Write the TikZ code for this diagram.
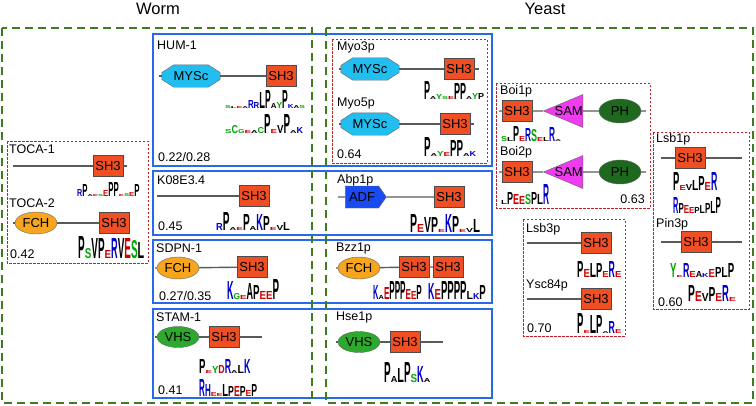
\documentclass[tikz,border=0pt]{standalone}
\usepackage{fontspec}
\setmainfont{Liberation Sans}
\usetikzlibrary{shapes.geometric,shapes.symbols,backgrounds}

\definecolor{wormgreen}{RGB}{60,125,30}
\definecolor{boxblue}{RGB}{40,105,235}
\definecolor{dashred}{RGB}{200,30,40}
\definecolor{shred}{RGB}{240,78,35}
\definecolor{myscblue}{RGB}{35,190,240}
\definecolor{adfblue}{RGB}{25,75,240}
\definecolor{fchorange}{RGB}{247,165,30}
\definecolor{vhsgreen}{RGB}{45,170,45}
\definecolor{phgreen}{RGB}{30,105,30}
\definecolor{sammag}{RGB}{240,60,240}
\definecolor{lineg}{RGB}{90,90,90}
% residue colours of the logos
\colorlet{lgP}{black}\colorlet{lgA}{black}\colorlet{lgL}{black}\colorlet{lgV}{black}
\colorlet{lgE}{red!80!black}\colorlet{lgD}{red!80!black}
\colorlet{lgR}{blue!80!black}\colorlet{lgK}{blue!80!black}\colorlet{lgH}{blue!80!black}
\colorlet{lgS}{green!65!black}\colorlet{lgG}{green!65!black}\colorlet{lgY}{green!65!black}\colorlet{lgC}{green!65!black}

\newlength{\lgw}
\newcommand{\lgres}[2]{\resizebox{\lgw}{#2pt}{\textcolor{lg#1}{#1}}}
\newcommand{\seqlogo}[2]{\setlength{\lgw}{#1pt}\foreach \ltr/\hgt in {#2}{\lgres{\ltr}{\hgt}}}
% octagon behind a MYSc node
\newcommand{\myscback}[1]{%
  \begin{pgfonlayer}{background}
    \filldraw[draw=black!60, fill=myscblue] ([yshift=3.5pt]#1.west) -- ([xshift=12pt]#1.north west)
      -- ([xshift=-12pt]#1.north east) -- ([yshift=3.5pt]#1.east) -- ([yshift=-3.5pt]#1.east)
      -- ([xshift=-12pt]#1.south east) -- ([xshift=12pt]#1.south west) -- ([yshift=-3.5pt]#1.west) -- cycle;
  \end{pgfonlayer}}

\tikzset{
    every node/.style={font=\fontsize{12.5}{14}\selectfont},
    dom/.style={font=\fontsize{13}{14}\selectfont, draw=black!60},
    bb/.style={draw=lineg, line width=1.4},
    sh3/.style={dom, rectangle, draw=black!70, fill=shred, minimum width=30, minimum height=21, inner sep=1},
    mysc/.style={dom, draw=none, rectangle, minimum width=58, minimum height=22, inner sep=0},
    adf/.style={dom, signal, signal to=east, signal pointer angle=110, fill=adfblue, minimum width=41, minimum height=22, inner sep=1},
    fch/.style={dom, ellipse, fill=fchorange, minimum width=42, minimum height=22, inner sep=0},
    vhs/.style={dom, ellipse, fill=vhsgreen, minimum width=42, minimum height=21, inner sep=0},
    ph/.style={dom, ellipse, fill=phgreen, minimum width=42, minimum height=24, inner sep=0},
    sam/.style={dom, isosceles triangle, shape border rotate=180, isosceles triangle stretches, fill=sammag, minimum width=33, minimum height=39, inner sep=0},
    prot/.style={anchor=west, inner sep=0},
    logo/.style={anchor=south west, inner sep=0, font=\bfseries},
    orgbox/.style={draw=wormgreen, line width=2, dash pattern=on 8pt off 5pt},
    famblue/.style={draw=boxblue, line width=1.8},
    famred/.style={draw=dashred, line width=0.9, dash pattern=on 2.5pt off 1.5pt}
}

\begin{document}
\begin{tikzpicture}[x=1pt, y=-1pt]
\useasboundingbox (0,0) rectangle (756,405);

% organisms
\node (worm) at (158,9) {\fontsize{16.5}{18}\selectfont Worm};
\node (yeast) at (545,9) {\fontsize{16.5}{18}\selectfont Yeast};
\draw[famblue] (153,34) rectangle (492,166);
\draw[famblue] (153,171) rectangle (492,235);
\draw[famblue] (153,240) rectangle (492,303);
\draw[famblue] (153,309) rectangle (492,398);
\draw[orgbox] (2,28) rectangle (312,403);
\draw[orgbox] (326,28) rectangle (753,403);
\draw[famred] (7,141) rectangle (148,263);
\draw[famred] (332,39) rectangle (487,163);
\draw[famred] (496,83) rectangle (650,208);
\draw[famred] (653,132) rectangle (749,309);
\draw[famred] (523,219) rectangle (625,336);

% TOCA-1 / TOCA-2
\node[prot] (toca1) at (9,149) {TOCA-1};
\coordinate (toca1s) at (13,166);
\coordinate (toca1e) at (127,166);
\node[sh3] (toca1sh) at (108,166) {SH3};
\draw[bb] (toca1s) -- (toca1sh) -- (toca1e);
\node[logo] (toca1lg) at (77,197) {\seqlogo{5.2}{R/7,P/12,A/2,E/2,S/2,E/6,P/14,P/14,E/2,S/3,E/4,P/12}};
\node[prot] (toca2) at (9,203) {TOCA-2};
\coordinate (toca2s) at (13,223);
\node[fch] (toca2fch) at (36,223) {FCH};
\node[sh3] (toca2sh) at (114,223) {SH3};
\draw[bb] (toca2s) -- (toca2fch) -- (toca2sh);
\node[logo] (toca2lg) at (78,259) {\seqlogo{6.6}{P/22,S/10,V/20,P/20,E/8,R/20,V/20,E/20,S/18,L/16}};
\node[prot] (toca) at (10,254) {0.42};

% HUM-1
\node[prot] (hum1) at (157,45) {HUM-1};
\coordinate (hum1s) at (159,76);
\node[mysc] (hum1my) at (191,76) {MYSc};
\myscback{hum1my}
\node[sh3] (hum1sh) at (281,76) {SH3};
\draw[bb] (hum1s) -- (hum1my) -- (hum1sh);
\node[logo] (hum1lga) at (225,109) {\seqlogo{5.7}{S/3,L/2,E/2,A/2,R/8,R/6,L/16,P/18,A/5,Y/6,P/18,K/4,A/3,S/3}};
\node[logo] (hum1lgb) at (225,134) {\seqlogo{6.5}{S/4,C/8,G/4,E/3,A/3,C/6,P/19,E/4,V/8,P/19,A/3,K/6}};
\node[prot] (hum1sc) at (158,157) {0.22/0.28};

% Myo3p / Myo5p
\node[prot] (myo3) at (337,47) {Myo3p};
\coordinate (myo3s) at (339,69);
\coordinate (myo3e) at (479,69);
\node[mysc] (myo3my) at (370,69) {MYSc};
\myscback{myo3my}
\node[sh3] (myo3sh) at (459,69) {SH3};
\draw[bb] (myo3s) -- (myo3my) -- (myo3sh) -- (myo3e);
\node[logo] (myo3lg) at (424,100) {\seqlogo{6}{P/18,A/3,Y/5,S/3,E/3,P/16,P/16,A/3,Y/6,P/6}};
\node[prot] (myo5) at (337,103) {Myo5p};
\coordinate (myo5s) at (339,124);
\coordinate (myo5e) at (474,124);
\node[mysc] (myo5my) at (370,124) {MYSc};
\myscback{myo5my}
\node[sh3] (myo5sh) at (455,124) {SH3};
\draw[bb] (myo5s) -- (myo5my) -- (myo5sh) -- (myo5e);
\node[logo] (myo5lg) at (424,157) {\seqlogo{6.5}{P/19,A/3,Y/5,E/4,P/16,P/16,A/3,K/5}};
\node[prot] (myosc) at (337,154) {0.64};

% K08E3.4 / Abp1p
\node[prot] (k08) at (157,180) {K08E3.4};
\coordinate (k08s) at (157,196);
\node[sh3] (k08sh) at (254,196) {SH3};
\draw[bb] (k08s) -- (k08sh);
\node[logo] (k08lg) at (216,231) {\seqlogo{6.7}{R/7,P/18,A/3,E/3,P/16,A/4,K/16,P/14,E/3,V/5,L/8}};
\node[prot] (k08sc) at (158,226) {0.45};
\node[prot] (abp1) at (337,180) {Abp1p};
\coordinate (abp1s) at (338,197);
\node[adf] (abp1adf) at (362,197) {ADF};
\node[sh3] (abp1sh) at (449,197) {SH3};
\draw[bb] (abp1s) -- (abp1adf) -- (abp1sh);
\node[logo] (abp1lg) at (410,233) {\seqlogo{7}{P/18,E/8,V/15,P/15,E/3,K/18,P/16,E/3,V/4,L/13}};

% SDPN-1 / Bzz1p
\node[prot] (sdpn1) at (156,248) {SDPN-1};
\coordinate (sdpn1s) at (155,268);
\node[fch] (sdpn1fch) at (178,268) {FCH};
\node[sh3] (sdpn1sh) at (252,267) {SH3};
\draw[bb] (sdpn1s) -- (sdpn1fch) -- (sdpn1sh);
\node[logo] (sdpn1lg) at (227,300) {\seqlogo{6.5}{K/18,G/6,E/4,A/16,P/14,E/8,E/8,P/20}};
\node[prot] (sdpn1sc) at (159,296) {0.27/0.35};
\node[prot] (bzz1) at (336,248) {Bzz1p};
\coordinate (bzz1s) at (336,268);
\node[fch] (bzz1fch) at (359,268) {FCH};
\node[sh3] (bzz1sha) at (414,267) {SH3};
\node[sh3] (bzz1shb) at (448,267) {SH3};
\draw[bb] (bzz1s) -- (bzz1fch) -- (bzz1sha) -- (bzz1shb);
\node[logo] (bzz1lga) at (373,300) {\seqlogo{5.4}{K/14,A/4,E/12,P/18,P/18,P/18,E/10,E/8,P/14}};
\node[logo] (bzz1lgb) at (428,300) {\seqlogo{6.4}{K/16,E/10,P/18,P/18,P/18,P/18,L/8,K/6,P/14}};

% STAM-1 / Hse1p
\node[prot] (stam1) at (156,317) {STAM-1};
\coordinate (stam1s) at (155,337);
\coordinate (stam1e) at (262,337);
\node[vhs] (stam1vhs) at (178,337) {VHS};
\node[sh3] (stam1sh) at (224,337) {SH3};
\draw[bb] (stam1s) -- (stam1vhs) -- (stam1sh) -- (stam1e);
\node[logo] (stam1lga) at (199,374) {\seqlogo{6.4}{P/14,E/3,Y/7,D/8,R/14,A/3,L/8,K/14}};
\node[logo] (stam1lgb) at (199,397) {\seqlogo{5.8}{R/17,H/12,E/4,E/3,L/12,P/10,E/10,P/10,E/6,P/12}};
\node[prot] (stam1sc) at (158,390) {0.41};
\node[prot] (hse1) at (336,317) {Hse1p};
\coordinate (hse1s) at (336,342);
\coordinate (hse1e) at (443,342);
\node[vhs] (hse1vhs) at (359,342) {VHS};
\node[sh3] (hse1sh) at (405,342) {SH3};
\draw[bb] (hse1s) -- (hse1vhs) -- (hse1sh) -- (hse1e);
\node[logo] (hse1lg) at (384,383) {\seqlogo{6.6}{P/20,A/6,L/14,P/20,S/8,K/16,A/4}};

% Boi1p / Boi2p
\node[prot] (boi1) at (500,91) {Boi1p};
\coordinate (boi1s) at (499,111);
\coordinate (boi1e) at (646,111);
\node[sh3] (boi1sh) at (517,111) {SH3};
\node[sam, anchor=apex] (boi1sam) at (543,111) {SAM};
\node[ph] (boi1ph) at (620,111) {PH};
\draw[bb] (boi1s) -- (boi1sh) -- (boi1sam) -- (boi1ph) -- (boi1e);
\node[logo] (boi1lg) at (501,142) {\seqlogo{6}{S/5,L/4,P/15,E/5,R/13,S/12,E/4,L/4,R/14,A/2}};
\node[prot] (boi2) at (500,152) {Boi2p};
\coordinate (boi2s) at (499,172);
\coordinate (boi2e) at (646,172);
\node[sh3] (boi2sh) at (517,172) {SH3};
\node[sam, anchor=apex] (boi2sam) at (543,172) {SAM};
\node[ph] (boi2ph) at (620,172) {PH};
\draw[bb] (boi2s) -- (boi2sh) -- (boi2sam) -- (boi2ph) -- (boi2e);
\node[logo] (boi2lg) at (501,205) {\seqlogo{6}{L/4,P/12,E/10,E/8,S/10,P/12,L/10,R/20}};
\node[anchor=east, inner sep=0] (boisc) at (645,199) {0.63};

% Lsb3p / Ysc84p
\node[prot] (lsb3) at (526,229) {Lsb3p};
\coordinate (lsb3s) at (527,243);
\node[sh3] (lsb3sh) at (596,243) {SH3};
\draw[bb] (lsb3s) -- (lsb3sh);
\node[logo] (lsb3lg) at (577,278) {\seqlogo{6.3}{P/16,E/8,L/14,P/14,E/6,R/16,E/6}};
\node[prot] (ysc84) at (526,285) {Ysc84p};
\coordinate (ysc84s) at (527,299);
\node[sh3] (ysc84sh) at (596,299) {SH3};
\draw[bb] (ysc84s) -- (ysc84sh);
\node[logo] (ysc84lg) at (577,334) {\seqlogo{6.3}{P/20,E/3,L/18,P/18,A/2,R/12,E/4}};
\node[prot] (lsb3sc) at (527,328) {0.70};

% Lsb1p / Pin3p
\node[prot] (lsb1) at (656,139) {Lsb1p};
\coordinate (lsb1s) at (661,158);
\coordinate (lsb1e) at (742,158);
\node[sh3] (lsb1sh) at (690,158) {SH3};
\draw[bb] (lsb1s) -- (lsb1sh) -- (lsb1e);
\node[logo] (lsb1lga) at (673,191) {\seqlogo{6.3}{P/18,E/5,V/6,L/10,P/14,E/8,R/18}};
\node[logo] (lsb1lgb) at (673,214) {\seqlogo{5.3}{R/16,P/10,E/8,E/6,P/6,L/8,P/10,L/12,P/16}};
\node[prot] (pin3) at (656,224) {Pin3p};
\coordinate (pin3s) at (661,242);
\coordinate (pin3e) at (742,242);
\node[sh3] (pin3sh) at (696,242) {SH3};
\draw[bb] (pin3s) -- (pin3sh) -- (pin3e);
\node[logo] (pin3lga) at (670,278) {\seqlogo{6.4}{Y/14,E/2,R/14,E/6,A/6,K/4,E/8,P/10,L/10,P/14}};
\node[logo] (pin3lgb) at (688,302) {\seqlogo{6.8}{P/16,E/10,V/8,P/14,E/8,R/16,E/4}};
\node[prot] (pin3sc) at (658,302) {0.60};
\end{tikzpicture}
\end{document}
